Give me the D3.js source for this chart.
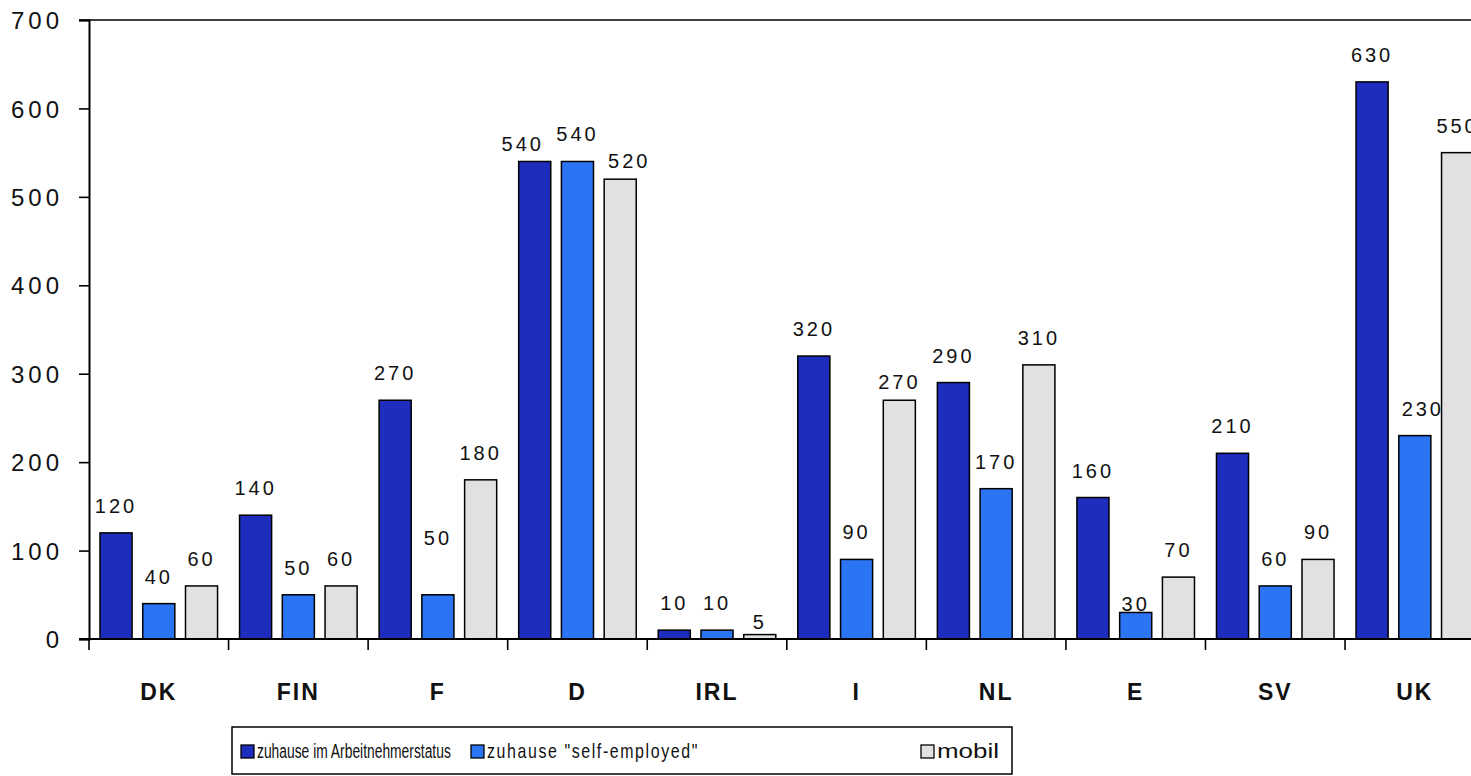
<!DOCTYPE html>
<html>
<head>
<meta charset="utf-8">
<script src="https://cdn.jsdelivr.net/npm/d3@7"></script>
<style>
  html, body { margin: 0; padding: 0; background: #fff; overflow: hidden; }
  svg { display: block; }
  .num { font-family: "Liberation Sans", Arial, sans-serif; fill: #111; }
</style>
</head>
<body>
<svg id="chart" width="1471" height="776"></svg>
<script>
// Countries along the x axis
const countries = ["DK", "FIN", "F", "D", "IRL", "I", "NL", "E", "SV", "UK"];

// One value per country for each of the three groups
const employedAtHome = [120, 140, 270, 540, 10, 320, 290, 160, 210, 630];
const selfEmployedAtHome = [40, 50, 50, 540, 10, 90, 170, 30, 60, 230];
const mobile = [60, 60, 180, 520, 5, 270, 310, 70, 90, 550];

const seriesNames = ["zuhause im Arbeitnehmerstatus", "zuhause \"self-employed\"", "mobil"];
const seriesValues = [employedAtHome, selfEmployedAtHome, mobile];
const seriesColors = ["#1f2dbe", "#2b74f4", "#e1e1e1"];

const yTicks = [0, 100, 200, 300, 400, 500, 600, 700];

// Hand-placed value labels: offsets in px from the default spot, keyed "series|country"
const labelNudge = {
  "0|D": [-12, 10],
  "2|D": [9, 9],
  "1|F": [0, -30],
  "2|IRL": [0, 14],
  "2|I": [0, 9],
  "1|E": [0, 19],
  "1|UK": [8, 0]
};

const svg = d3.select("#chart");
const plotLeft = 89, plotTop = 20, plotBottom = 639;
const bandWidth = 139.56;
const plotRight = plotLeft + bandWidth * countries.length;

const x0 = d3.scaleBand().domain(countries).range([plotLeft, plotRight]).paddingInner(0).paddingOuter(0);
const x1 = d3.scaleBand().domain(d3.range(seriesNames.length))
  .range([11, bandWidth - 11]).paddingInner(0.25).paddingOuter(0);
const y = d3.scaleLinear().domain([0, 700]).range([plotBottom, plotTop]);

// Top border of the plot area
svg.append("line")
  .attr("x1", plotLeft - 10).attr("x2", 1471)
  .attr("y1", plotTop).attr("y2", plotTop)
  .attr("stroke", "#000").attr("stroke-width", 1.6);

// Value axis
const yAxis = svg.append("g")
  .attr("transform", `translate(${plotLeft},0)`)
  .call(d3.axisLeft(y).tickValues(yTicks).tickSize(10).tickPadding(16).tickFormat(d3.format("d")));
yAxis.select(".domain").attr("stroke", "#000").attr("stroke-width", 2);
yAxis.selectAll(".tick line").attr("stroke", "#000").attr("stroke-width", 1.6);
yAxis.selectAll(".tick text")
  .attr("class", "num")
  .attr("font-size", 24)
  .attr("letter-spacing", 4)
  .attr("dy", "0.36em");

// Bars and their value labels, series by series
seriesValues.forEach((vals, s) => {
  const g = svg.append("g");
  g.selectAll("rect")
    .data(countries)
    .join("rect")
    .attr("x", c => x0(c) + x1(s))
    .attr("width", x1.bandwidth())
    .attr("y", (c, i) => y(vals[i]))
    .attr("height", (c, i) => y(0) - y(vals[i]))
    .attr("fill", seriesColors[s])
    .attr("stroke", "#000")
    .attr("stroke-width", 1.5);
  const nudge = c => labelNudge[`${s}|${c}`] || [0, 0];
  g.selectAll("text")
    .data(countries)
    .join("text")
    .attr("class", "num")
    .attr("x", c => x0(c) + x1(s) + x1.bandwidth() / 2 + nudge(c)[0])
    .attr("y", (c, i) => y(vals[i]) - 20 + nudge(c)[1])
    .attr("text-anchor", "middle")
    .attr("font-size", 20)
    .attr("letter-spacing", 3)
    .text((c, i) => vals[i]);
});

// Category axis
svg.append("line")
  .attr("x1", plotLeft - 10).attr("x2", 1471)
  .attr("y1", plotBottom).attr("y2", plotBottom)
  .attr("stroke", "#000").attr("stroke-width", 2);
svg.append("g").selectAll("line")
  .data(countries)
  .join("line")
  .attr("x1", c => x0(c)).attr("x2", c => x0(c))
  .attr("y1", plotBottom).attr("y2", plotBottom + 11)
  .attr("stroke", "#000").attr("stroke-width", 1.6);
svg.append("g").selectAll("text")
  .data(countries)
  .join("text")
  .attr("class", "num")
  .attr("x", c => x0(c) + x0.bandwidth() / 2)
  .attr("y", 700)
  .attr("text-anchor", "middle")
  .attr("font-size", 23)
  .attr("font-weight", "bold")
  .attr("letter-spacing", 2)
  .text(c => c);

// Legend: narrow lettering, each entry squeezed horizontally to its slot
const legend = svg.append("g");
legend.append("rect")
  .attr("x", 232).attr("y", 727).attr("width", 780).attr("height", 47)
  .attr("fill", "#fff").attr("stroke", "#000").attr("stroke-width", 1.5);
const legendX = [241, 471, 921];
const legendTextWidth = [194, 212, 62];
seriesNames.forEach((name, s) => {
  legend.append("rect")
    .attr("x", legendX[s]).attr("y", 745).attr("width", 13).attr("height", 13)
    .attr("fill", seriesColors[s]).attr("stroke", "#000").attr("stroke-width", 1.3);
  const t = legend.append("text")
    .attr("class", "num")
    .attr("x", 0).attr("y", 0)
    .attr("font-size", 20)
    .attr("letter-spacing", s === 1 ? 2 : 0)
    .text(name);
  const natural = t.node().getComputedTextLength();
  const k = legendTextWidth[s] / natural;
  t.attr("transform", `translate(${legendX[s] + 16},758) scale(${k},1)`);
});
</script>
</body>
</html>
